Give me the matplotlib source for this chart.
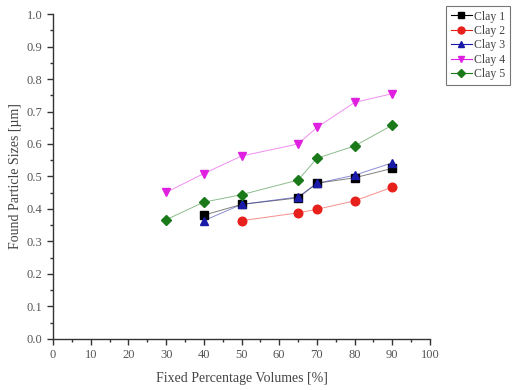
import matplotlib
matplotlib.use('Agg')
from matplotlib import pyplot as plt
from matplotlib.ticker import MultipleLocator, FormatStrFormatter

plt.rcParams['font.family'] = ['Liberation Serif', 'DejaVu Serif']

# Data
clay1_x = [40, 50, 65, 70, 80, 90]
clay1_y = [0.381, 0.414, 0.434, 0.479, 0.496, 0.525]
clay2_x = [50, 65, 70, 80, 90]
clay2_y = [0.364, 0.388, 0.399, 0.425, 0.467]
clay3_x = [40, 50, 65, 70, 80, 90]
clay3_y = [0.364, 0.414, 0.437, 0.479, 0.504, 0.542]
clay4_x = [30, 40, 50, 65, 70, 80, 90]
clay4_y = [0.451, 0.509, 0.563, 0.600, 0.651, 0.728, 0.755]
clay5_x = [30, 40, 50, 65, 70, 80, 90]
clay5_y = [0.367, 0.421, 0.444, 0.489, 0.556, 0.594, 0.658]

series = [
    ('Clay 1', clay1_x, clay1_y, 'black', 's'),
    ('Clay 2', clay2_x, clay2_y, '#e8201c', 'o'),
    ('Clay 3', clay3_x, clay3_y, '#1a1aa8', '^'),
    ('Clay 4', clay4_x, clay4_y, '#e020e0', 'v'),
    ('Clay 5', clay5_x, clay5_y, '#1a7a1a', 'D'),
]

fig = plt.figure(figsize=(5.15, 3.9), dpi=100)
ax = fig.add_axes([0.103, 0.131, 0.732, 0.833])

for label, xs, ys, color, marker in series:
    ms = 5.2 if marker == 'D' else 6.2
    ax.plot(xs, ys, color=color, linewidth=0.7, alpha=0.5, zorder=2)
    ax.plot(xs, ys, linestyle='none', marker=marker, color=color,
            markersize=ms, zorder=3)

# legend handles combining line and marker
handles = []
for label, xs, ys, color, marker in series:
    h, = ax.plot([], [], color=color, linewidth=0.8, marker=marker,
                 markersize=5 if marker != 'D' else 4.5, label=label)
    handles.append(h)

ax.set_xlim(0, 100)
ax.set_ylim(0.0, 1.0)
ax.xaxis.set_major_locator(MultipleLocator(10))
ax.xaxis.set_minor_locator(MultipleLocator(5))
ax.yaxis.set_major_locator(MultipleLocator(0.1))
ax.yaxis.set_minor_locator(MultipleLocator(0.05))
ax.yaxis.set_major_formatter(FormatStrFormatter('%.1f'))

for side in ['top', 'right']:
    ax.spines[side].set_visible(False)
for side in ['left', 'bottom']:
    ax.spines[side].set_color('#333333')
    ax.spines[side].set_linewidth(1.0)

ax.tick_params(which='major', direction='out', length=4, width=1,
               color='#333333', labelsize=9, labelcolor='#555555')
ax.tick_params(which='minor', direction='out', length=2.5, width=1,
               color='#333333')

ax.set_xlabel('Fixed Percentage Volumes [%]', fontsize=10, color='#444444', labelpad=8)
ax.set_ylabel('Found Particle Sizes [µm]', fontsize=10, color='#444444')
ax.yaxis.set_label_coords(-0.082, 0.5)

leg = fig.legend(handles=handles, loc='upper left', bbox_to_anchor=(0.866, 0.985),
                 fontsize=8.5, frameon=True, fancybox=False, handlelength=1.8,
                 handletextpad=0.2, borderpad=0.4, labelspacing=0.2,
                 borderaxespad=0)
leg.get_frame().set_edgecolor('#555555')
leg.get_frame().set_linewidth(0.8)
for t in leg.get_texts():
    t.set_color('#444444')

fig.savefig('out.png', dpi=100)
